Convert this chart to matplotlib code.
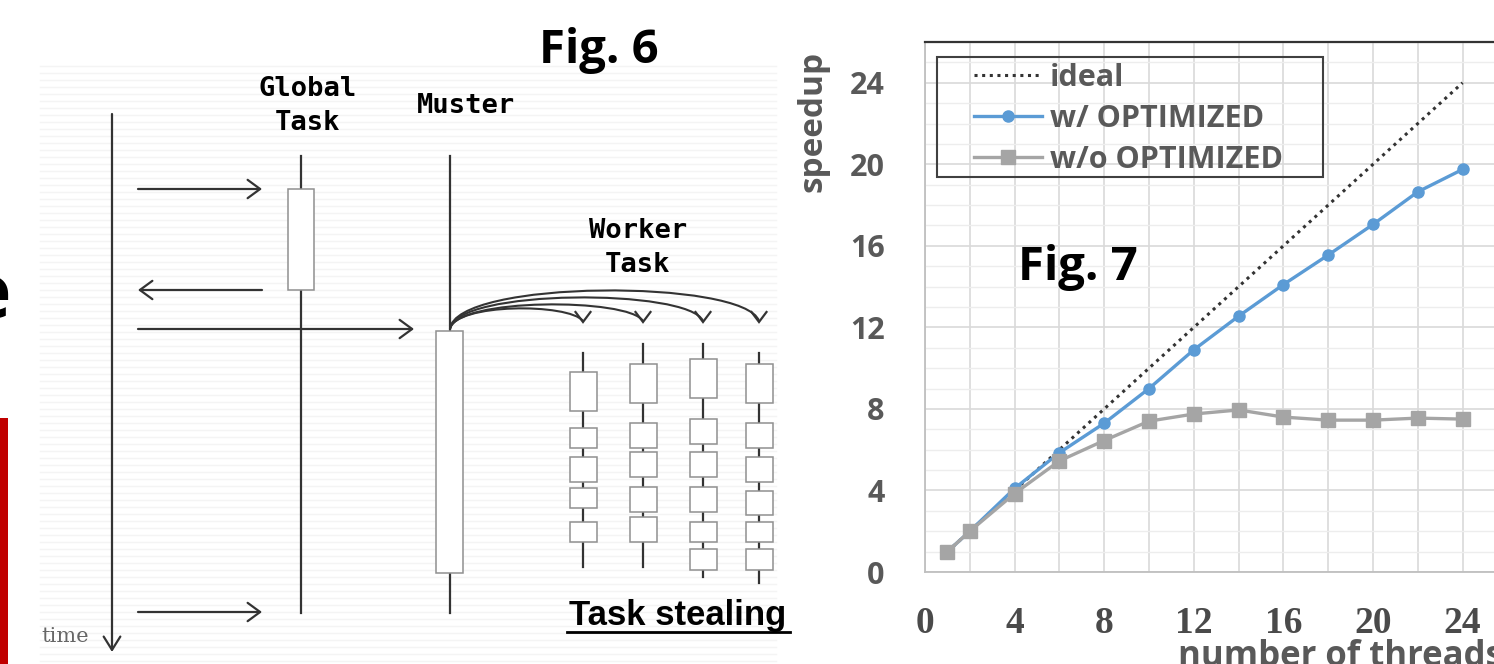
import numpy as np
import matplotlib
matplotlib.use('Agg')
import matplotlib.pyplot as plt
from matplotlib.patches import Rectangle, PathPatch
from matplotlib.path import Path
from matplotlib.ticker import MultipleLocator

plt.rcParams['font.family'] = ['Open Sans', 'DejaVu Sans']

# ---- Fig. 7 data ----
threads = [1, 2, 4, 6, 8, 10, 12, 14, 16, 18, 20, 22, 24]
optimized = [1.0, 2.0, 4.1, 5.85, 7.3, 9.0, 10.9, 12.55, 14.1, 15.55, 17.05, 18.65, 19.75]
unoptimized = [1.0, 2.0, 3.85, 5.45, 6.45, 7.4, 7.75, 7.95, 7.6, 7.45, 7.45, 7.55, 7.5]
ideal_x = [1, 24]
ideal_y = [1, 24]
x_ticks = [0, 4, 8, 12, 16, 20, 24]
y_ticks = [0, 4, 8, 12, 16, 20, 24]
series_names = ['ideal', 'w/ OPTIMIZED', 'w/o OPTIMIZED']

# ---- Fig. 6 diagram layout (pixel coords) ----
time_x = 112
lifelines = {'global': (301, 156, 613), 'muster': (450, 156, 613)}
global_box = (288, 189, 314, 290)
muster_box = (436, 331, 463, 573)
msg_arrows = [((138, 189), (262, 189)), ((262, 290), (138, 290)),
              ((138, 329), (414, 329)), ((138, 612), (262, 612))]
worker_x = [583, 643, 703, 759]
worker_lines = [(353, 567), (344, 567), (344, 577), (353, 583)]
worker_boxes = [
    [(372, 411), (428, 448), (457, 482), (488, 508), (522, 542)],
    [(364, 403), (423, 448), (452, 477), (487, 512), (517, 542)],
    [(359, 398), (419, 444), (452, 477), (487, 512), (522, 542), (549, 570)],
    [(364, 403), (423, 448), (457, 482), (491, 515), (522, 542), (549, 570)],
]
curve_peaks = [308, 304, 297, 290]

W, H = 1494, 664
fig = plt.figure(figsize=(W / 100, H / 100), dpi=100)
fig.patch.set_facecolor('white')

ax0 = fig.add_axes([0, 0, 1, 1])
ax0.set_xlim(0, W)
ax0.set_ylim(H, 0)
ax0.axis('off')

# lined paper texture behind the diagram
for yy in np.arange(66, 662, 7):
    ax0.plot([40, 776], [yy, yy], color='#f4f4f4', lw=1, zorder=0)

# left edge remnants of the slide
ax0.add_patch(Rectangle((0, 418), 8, 246, color='#c00000', lw=0))
ax0.text(11, 318, 'e', ha='right', va='baseline', fontsize=54,
         fontweight='bold', color='black')

dark = '#333333'
box_edge = '#909090'

# time axis
ax0.annotate('', xy=(time_x, 652), xytext=(time_x, 114),
             arrowprops=dict(arrowstyle='->,head_length=0.8,head_width=0.5',
                             lw=1.6, color=dark, shrinkA=0, shrinkB=0,
                             mutation_scale=12))
ax0.text(41, 637, 'time', ha='left', va='center', fontsize=15,
         family='DejaVu Serif', color='#666666')

# lifelines and boxes
for x, y0, y1 in lifelines.values():
    ax0.plot([x, x], [y0, y1], color=dark, lw=1.6, zorder=2)
for bx0, by0, bx1, by1 in (global_box, muster_box):
    ax0.add_patch(Rectangle((bx0, by0), bx1 - bx0, by1 - by0, facecolor='white',
                            edgecolor=box_edge, lw=1.1, zorder=3))

for start, end in msg_arrows:
    ax0.annotate('', xy=end, xytext=start,
                 arrowprops=dict(arrowstyle='->,head_length=0.75,head_width=0.55',
                                 lw=1.6, color=dark, shrinkA=0, shrinkB=0,
                                 mutation_scale=12), zorder=4)

# worker tasks
for wx, (ly0, ly1), boxes in zip(worker_x, worker_lines, worker_boxes):
    ax0.plot([wx, wx], [ly0, ly1], color=dark, lw=1.6, zorder=2)
    for by0, by1 in boxes:
        ax0.add_patch(Rectangle((wx - 13.5, by0), 27, by1 - by0, facecolor='white',
                                edgecolor=box_edge, lw=1.1, zorder=3))

# spawn curves from muster to workers, with open "v" heads
for wx, peak in zip(worker_x, curve_peaks):
    h = (peak - 80.75) / 0.75
    verts = [(450, 329), (455, h), (wx - 14, h), (wx, 321)]
    path = Path(verts, [Path.MOVETO, Path.CURVE4, Path.CURVE4, Path.CURVE4])
    ax0.add_patch(PathPatch(path, fill=False, edgecolor=dark, lw=1.5, zorder=4))
    ax0.plot([wx - 7.5, wx, wx + 7.5], [312, 322, 312], color=dark, lw=1.6,
             solid_joinstyle='miter', zorder=4)

mono = dict(family='DejaVu Sans Mono', fontweight='bold', fontsize=19.5,
            color='black', ha='center', va='center')
ax0.text(308, 89, 'Global', **mono)
ax0.text(308, 123, 'Task', **mono)
ax0.text(466, 106, 'Muster', **mono)
ax0.text(638, 231, 'Worker', **mono)
ax0.text(638, 265, 'Task', **mono)

ax0.text(599, 50, 'Fig. 6', ha='center', va='center', fontsize=34,
         fontweight='bold', color='black')
ax0.text(678, 616, 'Task stealing', ha='center', va='center', fontsize=25,
         fontweight='bold', family='Liberation Sans', color='black')
ax0.plot([567, 790], [632, 632], color='black', lw=2)

# ---- Fig. 7 chart ----
px_unit_x = 22.4
x_left, y_top, y_bot = 925, 42, 572
x_right = x_left + 26 * px_unit_x
ax = fig.add_axes([x_left / W, (H - y_bot) / H, (x_right - x_left) / W,
                   (y_bot - y_top) / H])
ax.set_facecolor('none')
ax.set_xlim(0, 26)
ax.set_ylim(0, 26)

ax.yaxis.set_minor_locator(MultipleLocator(1))
ax.grid(True, which='major', axis='x', color='#d9d9d9', lw=1.2)
ax.grid(True, which='major', axis='y', color='#d9d9d9', lw=1.2)
ax.grid(True, which='minor', axis='y', color='#ededed', lw=1.0)
ax.set_axisbelow(True)

ax.set_xticks(list(range(0, 27, 2)))
ax.set_xticklabels([str(v) if v in x_ticks else '' for v in range(0, 27, 2)])
ax.set_yticks(y_ticks)
ax.tick_params(axis='both', which='both', length=0)
ax.tick_params(axis='x', pad=24.5)
ax.tick_params(axis='y', pad=29)
for lab in ax.get_xticklabels():
    lab.set_family('Liberation Serif')
    lab.set_fontweight('bold')
    lab.set_fontsize(27)
    lab.set_color('#4a4a4a')
for lab in ax.get_yticklabels():
    lab.set_fontweight('bold')
    lab.set_fontsize(22)
    lab.set_color('#595959')

for side in ('left', 'bottom'):
    ax.spines[side].set_color('#bfbfbf')
    ax.spines[side].set_linewidth(1.3)
ax.spines['top'].set_color('#333333')
ax.spines['top'].set_linewidth(1.6)
ax.spines['right'].set_visible(False)

ax.plot(ideal_x, ideal_y, linestyle=(0, (1, 1.5)), color='#333333', lw=2.2,
        label=series_names[0], zorder=3)
ax.plot(threads, optimized, color='#5b9bd5', lw=2.4, marker='o', markersize=8,
        label=series_names[1], zorder=4)
ax.plot(threads, unoptimized, color='#a5a5a5', lw=2.4, marker='s', markersize=10,
        label=series_names[2], zorder=5)

leg = ax.legend(loc='upper left', bbox_to_anchor=(974, 63),
                bbox_transform=ax0.transData, frameon=False, borderaxespad=0,
                borderpad=0, prop=dict(size=22, weight='bold'), labelcolor='#595959',
                handlelength=2.22, handletextpad=0.26, labelspacing=0.36)
leg.set_zorder(7)
ax.add_patch(Rectangle((937, 57), 386, 120, transform=ax0.transData, fill=False,
                       edgecolor='#404040', lw=1.5, clip_on=False, zorder=7))

ax.set_ylabel('speedup', fontsize=24, fontweight='bold', color='#595959')
ax.yaxis.set_label_coords((829 - x_left) / (x_right - x_left), (y_bot - 121) / (y_bot - y_top))

ax0.text(1178, 666, 'number of threads', ha='left', va='baseline', fontsize=25,
         fontweight='bold', color='#595959')

ax.text((1078 - x_left) / (x_right - x_left), (y_bot - 268) / (y_bot - y_top), 'Fig. 7',
        transform=ax.transAxes, ha='center', va='center', fontsize=34,
        fontweight='bold', color='black', zorder=6)

fig.savefig('out.png', dpi=100, facecolor='white')
